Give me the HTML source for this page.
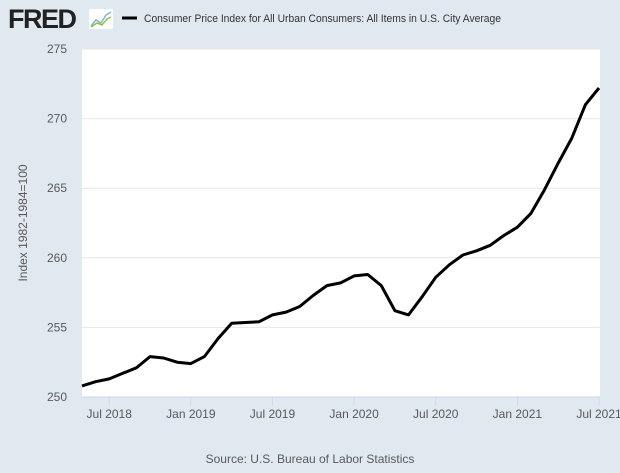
<!DOCTYPE html>
<html><head><meta charset="utf-8"><style>
body{margin:0;background:#e1e9f0;font-family:"Liberation Sans",sans-serif;}
</style></head><body>
<svg width="620" height="468" xmlns="http://www.w3.org/2000/svg">
<rect width="620" height="468" fill="#e1e9f0"/>
<g>
<text x="8" y="28" font-size="27" font-weight="bold" fill="#222" letter-spacing="-1.5">FRED</text>
<rect x="89" y="9" width="24" height="20" fill="#fff" rx="2"/>
<polyline points="91,26 96,20 101,23 106,15 111,12" fill="none" stroke="#7fb3d5" stroke-width="1.5"/>
<polyline points="91,27 97,23 102,25 107,19 111,17" fill="none" stroke="#8cc63f" stroke-width="1.5"/>
</g>
<g>
<line x1="122" y1="18" x2="137" y2="18" stroke="#000" stroke-width="3"/>
<text x="144" y="22" font-size="11" fill="#333" textLength="357" lengthAdjust="spacingAndGlyphs">Consumer Price Index for All Urban Consumers: All Items in U.S. City Average</text>
</g>
<rect x="82" y="49" width="518" height="348" fill="#fff"/>
<g id="grid"></g>
<g id="yt"></g>
<g id="xt"></g>
<line x1="82" y1="397" x2="600" y2="397" stroke="#ccd6eb"/>
<path id="ln" fill="none" stroke="#000" stroke-width="3" stroke-linejoin="round"/>
<text x="0" y="0" transform="translate(27,223) rotate(-90)" text-anchor="middle" font-size="12" fill="#595959">Index 1982-1984=100</text>
<text x="310" y="463" text-anchor="middle" font-size="12" fill="#595959">Source: U.S. Bureau of Labor Statistics</text>
</svg>
<script>
const values=[250.8,251.1,251.3,251.7,252.1,252.9,252.8,252.5,252.4,252.9,254.2,255.3,255.35,255.4,255.9,256.1,256.5,257.3,258.0,258.2,258.7,258.8,258.0,256.2,255.9,257.2,258.6,259.5,260.2,260.5,260.9,261.6,262.2,263.2,264.9,266.8,268.6,271.0,272.2];
const yTicks=[250,255,260,265,270,275];
const xTickLabels=["Jul 2018","Jan 2019","Jul 2019","Jan 2020","Jul 2020","Jan 2021","Jul 2021"];
const xTickIdx=[2,8,14,20,26,32,38];
const NS="http://www.w3.org/2000/svg";
const x=i=>82+i*(517/38);
const y=v=>397-(v-250)*(348/25);
const grid=document.getElementById('grid'),yt=document.getElementById('yt'),xt=document.getElementById('xt');
yTicks.forEach(t=>{
 if(t>250){const l=document.createElementNS(NS,'line');
 
 
 l.setAttribute('x1',82);l.setAttribute('x2',600);l.setAttribute('y1',y(t));l.setAttribute('y2',y(t));l.setAttribute('stroke','#e6e6e6');grid.appendChild(l);}
 const s=document.createElementNS(NS,'text');
 
 
 s.setAttribute('x',67);s.setAttribute('y',y(t)+4);s.setAttribute('text-anchor','end');s.setAttribute('font-size','12');s.setAttribute('fill','#595959');s.textContent=t;yt.appendChild(s);
});
xTickIdx.forEach((i,k)=>{
 const l=document.createElementNS(NS,'line');
 
 
 l.setAttribute('x1',x(i));l.setAttribute('x2',x(i));l.setAttribute('y1',397);l.setAttribute('y2',405);l.setAttribute('stroke','#ccd6eb');xt.appendChild(l);
 const s=document.createElementNS(NS,'text');
 
 
 s.setAttribute('x',x(i));s.setAttribute('y',418);s.setAttribute('text-anchor','middle');s.setAttribute('font-size','12');s.setAttribute('fill','#595959');s.textContent=xTickLabels[k];xt.appendChild(s);
});
document.getElementById('ln').setAttribute('d',values.map((v,i)=>(i?'L':'M')+x(i).toFixed(1)+','+y(v).toFixed(1)).join(''));
</script>
</body></html>
